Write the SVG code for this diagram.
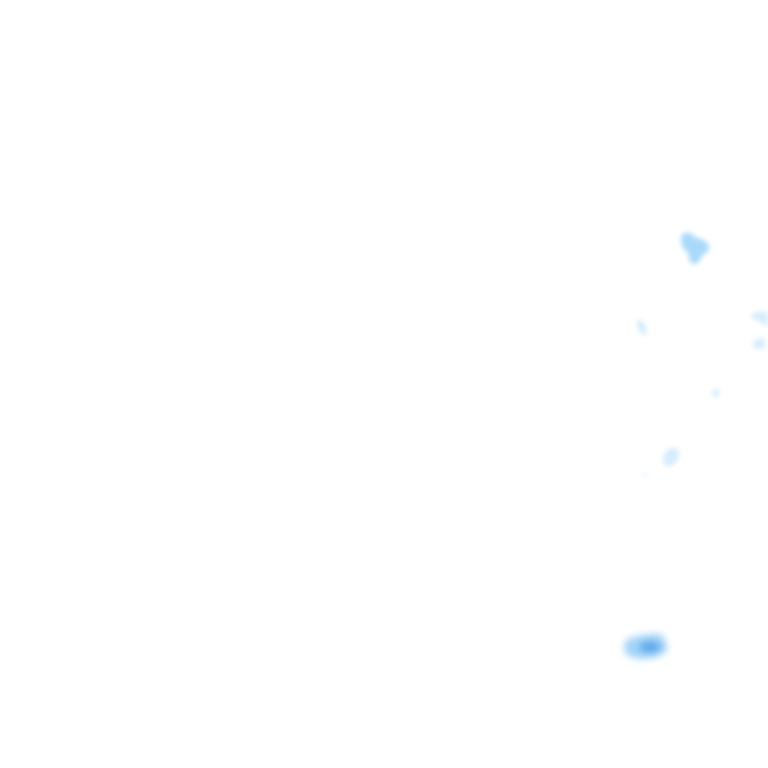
<svg xmlns="http://www.w3.org/2000/svg" width="768" height="768" viewBox="0 0 768 768">
<defs>
<filter id="b" x="-50%" y="-50%" width="200%" height="200%"><feGaussianBlur stdDeviation="2.5"/></filter>
<filter id="bs" x="-50%" y="-50%" width="200%" height="200%"><feGaussianBlur stdDeviation="3.5"/></filter>
</defs>
<style>.l{fill:#d4ecfc}.m{fill:#a9d9fa}</style>
<rect width="768" height="768" fill="#fff"/>
<g id="blobs" filter="url(#b)">
<g id="b1">
<path class="m" d="M682,234 Q690,230 696,238 Q704,238 709,245 Q710,253 702,255 Q700,264 693,264 Q688,262 689,254 Q681,248 681,240 Z"/>
</g>
<path id="b2a" class="l" d="M636,322 Q642,318 645,325 Q649,333 644,335 Q640,334 638,328 Z"/>
<path id="b3" class="l" d="M751,315 Q758,311 768,312 L768,326 Q762,325 759,320 Q752,321 751,315 Z"/>
<path id="b4" class="l" d="M753,343 Q756,338 764,338 L765,348 Q757,350 753,347 Z"/>
<ellipse id="b6" class="l" cx="671" cy="457" rx="7" ry="10" transform="rotate(30 671 457)"/>
<ellipse id="b5" class="l" cx="716" cy="393" rx="3" ry="4.5"/>
<ellipse id="b7" fill="#e6f4fd" cx="645" cy="475" rx="3" ry="2"/>
</g>
<g id="b8" filter="url(#bs)">
<path fill="#a2d4f7" d="M626,640 Q640,633 660,634 Q668,640 667,650 Q660,659 640,659 Q624,657 624,648 Z"/>
<ellipse fill="#5aaaec" cx="650" cy="647" rx="11" ry="6"/>
</g>
</svg>
